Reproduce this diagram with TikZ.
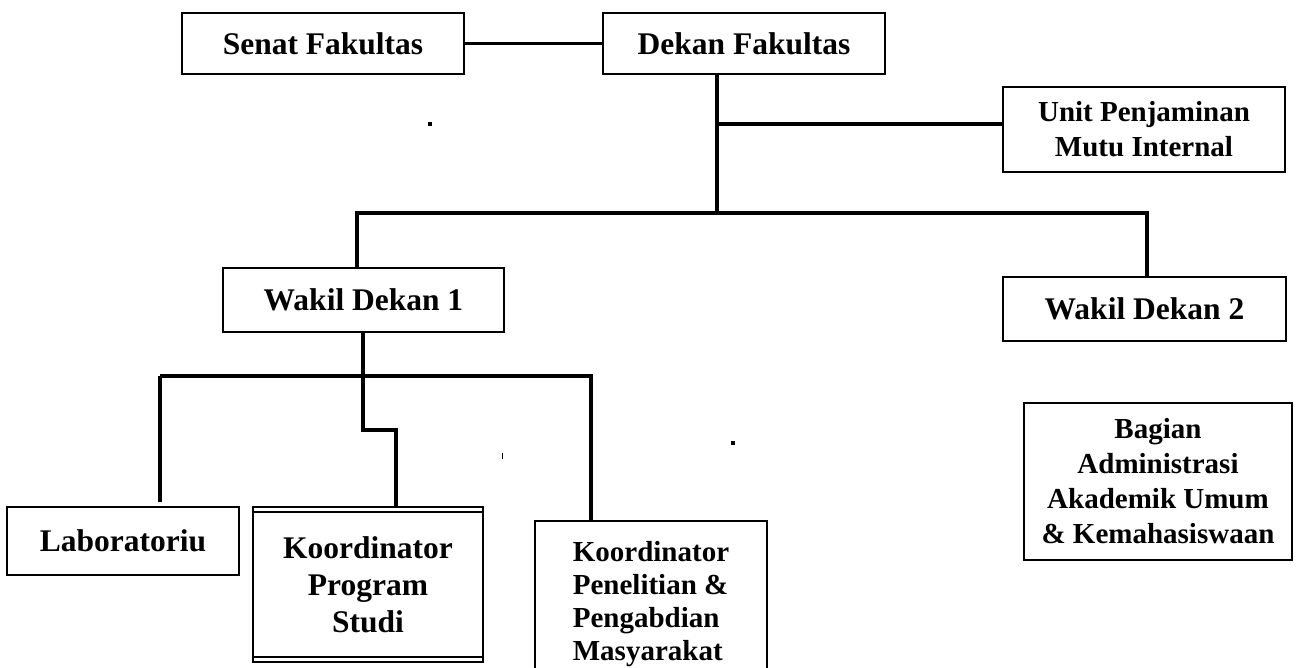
\documentclass[tikz,border=0pt]{standalone}
\usepackage{fontspec}
\setmainfont{Liberation Serif}
\usetikzlibrary{positioning}

\begin{document}
\begin{tikzpicture}[x=0.5pt,y=-0.5pt,
  unit box/.style={draw,line width=1pt,inner sep=0pt,outer sep=0pt,align=center,font=\bfseries\fontsize{15.75}{18.5}\selectfont},
  small box/.style={unit box,font=\bfseries\fontsize{14.5}{17.5}\selectfont},
  link/.style={line width=1.75pt}]

    \useasboundingbox (0,0) rectangle (1314,668);

    \node[unit box,minimum width=141pt,minimum height=30.5pt] (senat) at (323,43.5) {Senat Fakultas};
    \node[unit box,minimum width=141pt,minimum height=30.5pt] (dekan) at (744,43.5) {Dekan Fakultas};
    \node[small box,minimum width=141pt,minimum height=42.5pt] (upmi) at (1144,129.5) {Unit Penjaminan\\Mutu Internal};
    \node[unit box,minimum width=140.5pt,minimum height=32pt] (wd1) at (363.5,300) {Wakil Dekan 1};
    \node[unit box,minimum width=141.5pt,minimum height=32pt] (wd2) at (1144.5,309) {Wakil Dekan 2};
    \node[small box,minimum width=134pt,minimum height=78.5pt] (bagian) at (1158,481.5) {Bagian\\Administrasi\\Akademik Umum\\\& Kemahasiswaan};

    \node[unit box,minimum width=116pt,minimum height=34pt] (lab) at (123,541) {Laboratoriu};
    \node[unit box,minimum width=115pt,minimum height=77.5pt] (kps) at (368,584.5) {Koordinator\\Program\\Studi};
    \node[small box,anchor=north west,align=left,minimum width=116pt,minimum height=83.5pt,
          font=\bfseries\fontsize{14.5}{16.5}\selectfont] (kppm) at (535,521) {Koordinator\\Penelitian \&\\Pengabdian\\Masyarakat};

    % double rule on the study programme box
    \draw[line width=1pt] ([yshift=-2.5pt]kps.north west) -- ([yshift=-2.5pt]kps.north east);
    \draw[line width=1pt] ([yshift=2.5pt]kps.south west) -- ([yshift=2.5pt]kps.south east);

    \coordinate (tap) at (717,124);
    \coordinate (hub1) at (717,213);
    \coordinate (hub1 left) at (357,213);
    \coordinate (hub1 right) at (1147,213);
    \coordinate (hub2) at (363,376);
    \coordinate (hub2 left) at (160,376);
    \coordinate (hub2 right) at (591,376);
    \coordinate (jog) at (363,430);
    \coordinate (jog end) at (396,430);
    \coordinate (lab end) at (160,502);

    \draw[link] (senat) -- (dekan);
    \draw[link] (dekan.south -| hub1) -- (hub1);
    \draw[link] (tap) -- (upmi.west |- tap);
    \draw[link] (wd1.north -| hub1 left) -- (hub1 left) -- (hub1 right) -- (wd2.north -| hub1 right);

    \draw[link] (wd1.south -| hub2) -- (hub2) -- (jog) -- (jog end) -- (kps.north -| jog end);
    \draw[link] (hub2 left) -- (hub2 right) -- (kppm.north -| hub2 right);
    \draw[link] (hub2 left) -- (lab end);

    % stray marks
    \fill (428,122) rectangle (432,126);
    \fill (731,441) rectangle (735,445);
    \draw[line width=0.4pt] (502,453) -- (502,459);

\end{tikzpicture}
\end{document}
